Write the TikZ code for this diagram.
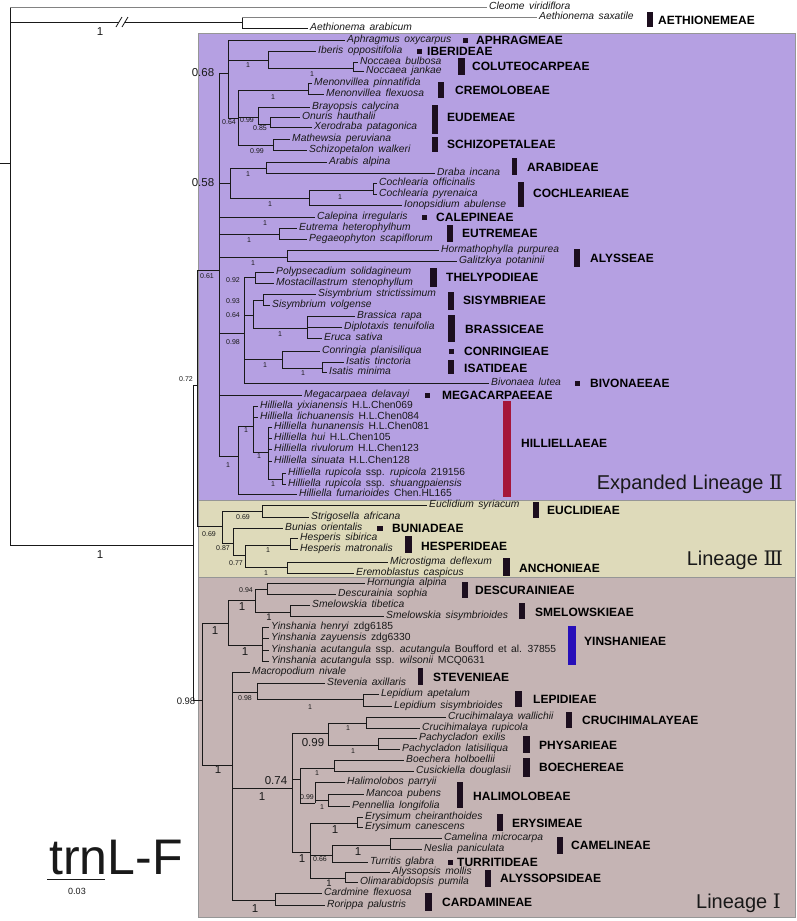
\documentclass[tikz,border=0pt]{standalone}
\usepackage{fontspec}
\setmainfont{Liberation Sans}
\newfontfamily\romfont{DejaVu Serif}
\definecolor{purp}{RGB}{181,160,226}
\definecolor{beig}{RGB}{222,218,186}
\definecolor{brwn}{RGB}{197,180,180}
\definecolor{bord}{RGB}{150,150,150}
\definecolor{ink}{RGB}{25,25,25}
\definecolor{barc}{RGB}{28,14,30}
\definecolor{hilc}{RGB}{165,22,58}
\definecolor{yinc}{RGB}{38,14,185}
\definecolor{grayline}{RGB}{130,130,130}
\newcommand\widesp{\spaceskip=4.5pt plus 1pt minus 1pt\relax}
\begin{document}
\begin{tikzpicture}[x=1pt,y=-1pt,
  branch/.style={draw=ink,line width=0.8pt},
  greybranch/.style={draw=grayline,line width=0.8pt},
  spn/.style={anchor=west,inner xsep=2pt,inner ysep=0pt,text height=7.4pt,text depth=2.1pt,text=ink,font=\fontsize{10.3}{10.3}\selectfont\itshape,execute at begin node=\widesp},
  tribe/.style={anchor=west,inner sep=0pt,text height=8.6pt,text depth=0pt,text=black,font=\fontsize{12}{12}\selectfont\bfseries},
  svs/.style={inner sep=0pt,text=ink,font=\fontsize{7}{7}\selectfont},
  svm/.style={inner sep=0pt,text=ink,font=\fontsize{9.5}{9.5}\selectfont},
  svl/.style={inner sep=0pt,text=ink,font=\fontsize{11.5}{11.5}\selectfont},
  region/.style={draw=bord,line width=0.7pt},
  lineage/.style={anchor=east,inner sep=0pt,text=ink,font=\fontsize{20}{20}\selectfont}
]
\useasboundingbox (0,0) rectangle (796,921);
% ---------- regions
\filldraw[region,fill=purp] (198,33) rectangle (795,500);
\filldraw[region,fill=beig] (198,500) rectangle (795,577);
\filldraw[region,fill=brwn] (198,577) rectangle (795,917);
\node[lineage] (linII) at (783,484) {Expanded Lineage {\romfont Ⅱ}};
\node[lineage] (linIII) at (783,560) {Lineage {\romfont Ⅲ}};
\node[lineage] (linI) at (781,903) {Lineage {\romfont Ⅰ}};

% ---------- internal nodes
\coordinate (r0) at (0,163);
\coordinate (r) at (10,163);
\coordinate (aeth) at (242,22);
\coordinate (brkA) at (119,22);
\coordinate (brkB) at (125,22);
\coordinate (core) at (193,545);
\coordinate (n072) at (197,385);
\coordinate (L1) at (202,700);
\coordinate (L2) at (219,270);
\coordinate (L3) at (222,526);
\coordinate (n068) at (228,73);
\coordinate (ibno) at (268,60);
\coordinate (noc) at (353,68);
\coordinate (n064) at (238,118);
\coordinate (menon) at (308,90);
\coordinate (eudem) at (258,117);
\coordinate (onxe) at (270,124);
\coordinate (schiz) at (273,145);
\coordinate (n058) at (230,183);
\coordinate (ardr) at (266,168);
\coordinate (coch) at (309,198);
\coordinate (cosp) at (373,190);
\coordinate (eutrn) at (279,234);
\coordinate (alysn) at (287,257);
\coordinate (n098) at (244,333);
\coordinate (thel) at (255,277);
\coordinate (n093) at (253,315);
\coordinate (sisn) at (263,300);
\coordinate (brasn) at (307,328);
\coordinate (conis) at (282,359);
\coordinate (isatn) at (322,368);
\coordinate (h0) at (238,456);
\coordinate (h1) at (253,426);
\coordinate (h2) at (268,452);
\coordinate (h3) at (282,479);
\coordinate (eucn) at (262,511);
\coordinate (n087) at (233,543);
\coordinate (n077) at (245,555);
\coordinate (hesp) at (290,545);
\coordinate (anch) at (287,567);
\coordinate (dsy) at (228,623);
\coordinate (dn) at (255,600);
\coordinate (descn) at (267,589);
\coordinate (smel) at (290,612);
\coordinate (yin) at (262,645);
\coordinate (rn) at (232,765);
\coordinate (stevn) at (257,692);
\coordinate (lepn) at (363,699);
\coordinate (bn) at (292,788);
\coordinate (n099) at (328,733);
\coordinate (cruc) at (366,723);
\coordinate (phys) at (378,745);
\coordinate (n074) at (300,779);
\coordinate (boen) at (334,768);
\coordinate (haln) at (315,803);
\coordinate (mp) at (328,800);
\coordinate (e1) at (310,852);
\coordinate (erys) at (357,823);
\coordinate (n066) at (332,855);
\coordinate (cane) at (390,845);
\coordinate (alyn) at (345,878);
\coordinate (cardn) at (275,900);

% ---------- leaves
\node[spn] (cleome) at (487,7) {Cleome viridiflora};
\node[spn] (saxat) at (537,17) {Aethionema saxatile};
\node[spn] (arabi) at (308,28) {Aethionema arabicum};
\node[spn] (aphr) at (345,40) {Aphragmus oxycarpus};
\node[spn] (iber) at (316,51) {Iberis oppositifolia};
\node[spn] (nocb) at (358,62) {Noccaea bulbosa};
\node[spn] (nocj) at (364,71) {Noccaea jankae};
\node[spn] (menp) at (312,83) {Menonvillea pinnatifida};
\node[spn] (menf) at (324,94) {Menonvillea flexuosa};
\node[spn] (bray) at (310,107) {Brayopsis calycina};
\node[spn] (onur) at (300,117) {Onuris hauthalii};
\node[spn] (xero) at (312,127) {Xerodraba patagonica};
\node[spn] (math) at (290,139) {Mathewsia peruviana};
\node[spn] (schi) at (307,150) {Schizopetalon walkeri};
\node[spn] (arab) at (327,162) {Arabis alpina};
\node[spn] (drab) at (435,173) {Draba incana};
\node[spn] (coco) at (377,183) {Cochlearia officinalis};
\node[spn] (copy) at (377,194) {Cochlearia pyrenaica};
\node[spn] (iono) at (402,205) {Ionopsidium abulense};
\node[spn] (cale) at (315,217) {Calepina irregularis};
\node[spn] (eutr) at (297,228) {Eutrema heterophylhum};
\node[spn] (pega) at (307,239) {Pegaeophyton scapiflorum};
\node[spn] (horm) at (439,250) {Hormathophylla purpurea};
\node[spn] (gali) at (457,261) {Galitzkya potaninii};
\node[spn] (poly) at (274,272) {Polypsecadium solidagineum};
\node[spn] (most) at (274,283) {Mostacillastrum stenophyllum};
\node[spn] (siss) at (316,294) {Sisymbrium strictissimum};
\node[spn] (sisv) at (270,305) {Sisymbrium volgense};
\node[spn] (bras) at (355,316) {Brassica rapa};
\node[spn] (dipl) at (342,327) {Diplotaxis tenuifolia};
\node[spn] (eruc) at (322,338) {Eruca sativa};
\node[spn] (conr) at (320,351) {Conringia planisiliqua};
\node[spn] (isat) at (344,362) {Isatis tinctoria};
\node[spn] (ismi) at (327,372) {Isatis minima};
\node[spn] (bivo) at (489,383) {Bivonaea lutea};
\node[spn] (mega) at (302,395) {Megacarpaea delavayi};
\node[spn] (hyix) at (258,406) {Hilliella yixianensis \textup{H.L.Chen069}};
\node[spn] (hlic) at (258,417) {Hilliella lichuanensis \textup{H.L.Chen084}};
\node[spn] (hhun) at (272,427) {Hilliella hunanensis \textup{H.L.Chen081}};
\node[spn] (hhui) at (272,438) {Hilliella hui \textup{H.L.Chen105}};
\node[spn] (hriv) at (272,449) {Hilliella rivulorum \textup{H.L.Chen123}};
\node[spn] (hsin) at (272,461) {Hilliella sinuata \textup{H.L.Chen128}};
\node[spn] (hrur) at (286,473) {Hilliella rupicola \textup{ssp.} rupicola \textup{219156}};
\node[spn] (hrus) at (286,484) {Hilliella rupicola \textup{ssp.} shuangpaiensis};
\node[spn] (hfum) at (297,494) {Hilliella fumarioides \textup{Chen.HL165}};
\node[spn] (eucl) at (427,505) {Euclidium syriacum};
\node[spn] (stri) at (309,517) {Strigosella africana};
\node[spn] (buni) at (283,528) {Bunias orientalis};
\node[spn] (hesi) at (298,538) {Hesperis sibirica};
\node[spn] (hema) at (298,549) {Hesperis matronalis};
\node[spn] (micr) at (388,562) {Microstigma deflexum};
\node[spn] (erem) at (354,573) {Eremoblastus caspicus};
\node[spn] (horn) at (365,583) {Hornungia alpina};
\node[spn] (desc) at (336,594) {Descurainia sophia};
\node[spn] (smti) at (310,605) {Smelowskia tibetica};
\node[spn] (smsi) at (384,616) {Smelowskia sisymbrioides};
\node[spn] (yhen) at (269,627) {Yinshania henryi \textup{zdg6185}};
\node[spn] (yzay) at (269,638) {Yinshania zayuensis \textup{zdg6330}};
\node[spn] (yaca) at (269,650) {Yinshania acutangula \textup{ssp.} acutangula \textup{Boufford et al. 37855}};
\node[spn] (ywil) at (269,661) {Yinshania acutangula \textup{ssp.} wilsonii \textup{MCQ0631}};
\node[spn] (macr) at (250,672) {Macropodium nivale};
\node[spn] (stev) at (325,683) {Stevenia axillaris};
\node[spn] (lepa) at (379,694) {Lepidium apetalum};
\node[spn] (leps) at (392,706) {Lepidium sisymbrioides};
\node[spn] (cwal) at (446,717) {Crucihimalaya wallichii};
\node[spn] (crup) at (420,728) {Crucihimalaya rupicola};
\node[spn] (pexi) at (417,738) {Pachycladon exilis};
\node[spn] (plat) at (400,749) {Pachycladon latisiliqua};
\node[spn] (boec) at (404,760) {Boechera holboellii};
\node[spn] (cusi) at (414,771) {Cusickiella douglasii};
\node[spn] (hali) at (345,782) {Halimolobos parryii};
\node[spn] (manc) at (364,794) {Mancoa pubens};
\node[spn] (penn) at (350,806) {Pennellia longifolia};
\node[spn] (erch) at (363,817) {Erysimum cheiranthoides};
\node[spn] (erca) at (363,827) {Erysimum canescens};
\node[spn] (came) at (442,838) {Camelina microcarpa};
\node[spn] (nesl) at (422,849) {Neslia paniculata};
\node[spn] (turr) at (368,862) {Turritis glabra};
\node[spn] (alys) at (390,872) {Alyssopsis mollis};
\node[spn] (olim) at (358,882) {Olimarabidopsis pumila};
\node[spn] (card) at (322,893) {Cardmine flexuosa};
\node[spn] (rori) at (325,905) {Rorippa palustris};

% ---------- branches
\draw[branch] (r0) -- (r);
\draw[branch] (r) -- (r |- cleome);
\draw[greybranch] (r |- cleome) -- (cleome);
\draw[branch] (r) |- (brkA);
\draw[branch] (brkB) -- (aeth);
\draw[branch] (aeth) -- (aeth |- saxat);
\draw[greybranch] (aeth |- saxat) -- (saxat);
\foreach \p/\c in {r/core, aeth/arabi, core/n072, core/L1, n072/L2, n072/L3,
  L2/n068, L2/n058, L2/cale, L2/eutrn, L2/alysn, L2/n098, L2/mega, L2/h0,
  n068/aphr, n068/ibno, n068/n064, ibno/iber, ibno/noc, noc/nocb, noc/nocj,
  n064/menon, n064/eudem, n064/schiz, menon/menp, menon/menf, eudem/bray, eudem/onxe,
  onxe/onur, onxe/xero, schiz/math, schiz/schi,
  n058/ardr, n058/coch, ardr/arab, ardr/drab, coch/cosp, coch/iono, cosp/coco, cosp/copy,
  eutrn/eutr, eutrn/pega, alysn/horm, alysn/gali,
  n098/thel, n098/n093, n098/conis, n098/bivo, thel/poly, thel/most,
  n093/sisn, n093/brasn, sisn/siss, sisn/sisv, brasn/bras, brasn/dipl, brasn/eruc,
  conis/conr, conis/isatn, isatn/isat, isatn/ismi,
  h0/h1, h0/hfum, h1/hyix, h1/hlic, h1/h2, h2/hhun, h2/hhui, h2/hriv, h2/hsin, h2/h3,
  h3/hrur, h3/hrus,
  L3/eucn, L3/n087, eucn/eucl, eucn/stri, n087/buni, n087/n077, n077/hesp, n077/anch,
  hesp/hesi, hesp/hema, anch/micr, anch/erem,
  L1/dsy, L1/rn, dsy/dn, dsy/yin, dn/descn, dn/smel, descn/horn, descn/desc,
  smel/smti, smel/smsi, yin/yhen, yin/yzay, yin/yaca, yin/ywil,
  rn/macr, rn/stevn, rn/bn, rn/cardn, stevn/stev, stevn/lepn, lepn/lepa, lepn/leps,
  bn/n099, bn/n074, bn/e1, n099/cruc, n099/phys, cruc/cwal, cruc/crup, phys/pexi, phys/plat,
  n074/boen, n074/haln, boen/boec, boen/cusi, haln/hali, haln/mp, mp/manc, mp/penn,
  e1/erys, e1/n066, e1/alyn, erys/erch, erys/erca, n066/cane, n066/turr,
  cane/came, cane/nesl, alyn/alys, alyn/olim, cardn/card, cardn/rori}
  {\draw[branch] (\p) |- (\c);}
% break marks
\coordinate (sl1a) at (116,27); \coordinate (sl1b) at (122,17);
\coordinate (sl2a) at (122,27); \coordinate (sl2b) at (128,17);
\draw[branch] (sl1a) -- (sl1b);
\draw[branch] (sl2a) -- (sl2b);

% ---------- support values
\node[svl] (s01) at (100,32) {1};
\node[svl] (s02) at (100,555) {1};
\node[svs] (s03) at (186,379) {0.72};
\node[svm] (s04) at (186,701) {0.98};
\node[svl] (s05) at (203,73) {0.68};
\node[svl] (s06) at (203,183) {0.58};
\node[svs] (s07) at (207,276) {0.61};
\node[svs] (s08) at (248,65) {1};
\node[svs] (s09) at (312,74) {1};
\node[svs] (s10) at (273,97) {1};
\node[svs] (s11) at (229,122) {0.64};
\node[svs] (s12) at (247,120) {0.99};
\node[svs] (s13) at (260,128) {0.85};
\node[svs] (s14) at (257,151) {0.99};
\node[svs] (s15) at (248,174) {1};
\node[svs] (s16) at (270,204) {1};
\node[svs] (s17) at (340,197) {1};
\node[svs] (s18) at (265,223) {1};
\node[svs] (s19) at (249,240) {1};
\node[svs] (s20) at (253,263) {1};
\node[svs] (s21) at (233,280) {0.92};
\node[svs] (s22) at (233,301) {0.93};
\node[svs] (s23) at (233,315) {0.64};
\node[svs] (s24) at (233,342) {0.98};
\node[svs] (s25) at (280,334) {1};
\node[svs] (s26) at (265,365) {1};
\node[svs] (s27) at (303,373) {1};
\node[svs] (s28) at (246,430) {1};
\node[svs] (s29) at (259,456) {1};
\node[svs] (s30) at (228,465) {1};
\node[svs] (s31) at (273,484) {1};
\node[svs] (s32) at (243,517) {0.69};
\node[svs] (s33) at (209,534) {0.69};
\node[svs] (s34) at (223,548) {0.87};
\node[svs] (s35) at (236,563) {0.77};
\node[svs] (s36) at (268,550) {1};
\node[svs] (s37) at (266,573) {1};
\node[svs] (s38) at (246,590) {0.94};
\node[svl] (s39) at (242,607) {1};
\node[svm] (s40) at (269,617) {1};
\node[svl] (s41) at (215,631) {1};
\node[svl] (s42) at (245,652) {1};
\node[svs] (s43) at (245,698) {0.98};
\node[svs] (s44) at (310,707) {1};
\node[svl] (s45) at (313,743) {0.99};
\node[svs] (s46) at (348,728) {1};
\node[svs] (s47) at (353,751) {1};
\node[svl] (s48) at (218,770) {1};
\node[svl] (s49) at (276,781) {0.74};
\node[svs] (s50) at (317,773) {1};
\node[svl] (s51) at (262,797) {1};
\node[svs] (s52) at (307,797) {0.99};
\node[svs] (s53) at (322,807) {1};
\node[svl] (s54) at (335,830) {1};
\node[svl] (s55) at (302,859) {1};
\node[svs] (s56) at (320,859) {0.66};
\node[svl] (s57) at (358,852) {1};
\node[svm] (s58) at (329,883) {1};
\node[svl] (s59) at (255,909) {1};

% ---------- tribe bars and labels
\fill[barc] (647,12) rectangle (653,27);   \node[tribe] (tAet) at (658,20) {AETHIONEMEAE};
\fill[barc] (463,37.5) rectangle (468,42.5); \node[tribe] (tAph) at (476,40) {APHRAGMEAE};
\fill[barc] (417,48.5) rectangle (422,53.5); \node[tribe] (tIbe) at (427,51) {IBERIDEAE};
\fill[barc] (458,58) rectangle (465,75);   \node[tribe] (tCol) at (472,66) {COLUTEOCARPEAE};
\fill[barc] (438,82) rectangle (444,98);   \node[tribe] (tCre) at (455,90) {CREMOLOBEAE};
\fill[barc] (432,105) rectangle (438,134); \node[tribe] (tEud) at (447,117) {EUDEMEAE};
\fill[barc] (432,137) rectangle (438,152); \node[tribe] (tSch) at (447,144) {SCHIZOPETALEAE};
\fill[barc] (512,158) rectangle (517,175); \node[tribe] (tAra) at (527,167) {ARABIDEAE};
\fill[barc] (518,182) rectangle (524,207); \node[tribe] (tCoc) at (533,193) {COCHLEARIEAE};
\fill[barc] (422,214.5) rectangle (427,219.5); \node[tribe] (tCal) at (436,217) {CALEPINEAE};
\fill[barc] (447,225) rectangle (453,242); \node[tribe] (tEut) at (462,233) {EUTREMEAE};
\fill[barc] (574,249) rectangle (580,267); \node[tribe] (tAly) at (590,258) {ALYSSEAE};
\fill[barc] (430,268) rectangle (437,287); \node[tribe] (tThe) at (446,277) {THELYPODIEAE};
\fill[barc] (448,292) rectangle (454,310); \node[tribe] (tSis) at (463,300) {SISYMBRIEAE};
\fill[barc] (448,315) rectangle (455,342); \node[tribe] (tBra) at (465,329) {BRASSICEAE};
\fill[barc] (449,348.5) rectangle (454,353.5); \node[tribe] (tCon) at (464,351) {CONRINGIEAE};
\fill[barc] (448,360) rectangle (454,374); \node[tribe] (tIsa) at (464,368) {ISATIDEAE};
\fill[barc] (575,380.5) rectangle (580,385.5); \node[tribe] (tBiv) at (590,383) {BIVONAEEAE};
\fill[barc] (425,392.5) rectangle (430,397.5); \node[tribe] (tMeg) at (442,395) {MEGACARPAEEAE};
\fill[hilc] (503,401) rectangle (511,497); \node[tribe] (tHil) at (521,443) {HILLIELLAEAE};
\fill[barc] (533,502) rectangle (539,518); \node[tribe] (tEuc) at (547,510) {EUCLIDIEAE};
\fill[barc] (377,525.5) rectangle (383,530.5); \node[tribe] (tBun) at (392,528) {BUNIADEAE};
\fill[barc] (405,536) rectangle (412,553); \node[tribe] (tHes) at (421,546) {HESPERIDEAE};
\fill[barc] (503,558) rectangle (510,576); \node[tribe] (tAnc) at (519,568) {ANCHONIEAE};
\fill[barc] (462,582) rectangle (468,598); \node[tribe] (tDes) at (475,590) {DESCURAINIEAE};
\fill[barc] (519,603) rectangle (525,619); \node[tribe] (tSme) at (535,612) {SMELOWSKIEAE};
\fill[yinc] (568,626) rectangle (576,665); \node[tribe] (tYin) at (584,641) {YINSHANIEAE};
\fill[barc] (418,668) rectangle (423,685); \node[tribe] (tSte) at (433,677) {STEVENIEAE};
\fill[barc] (515,691) rectangle (522,707); \node[tribe] (tLep) at (533,699) {LEPIDIEAE};
\fill[barc] (566,712) rectangle (572,728); \node[tribe] (tCru) at (582,720) {CRUCIHIMALAYEAE};
\fill[barc] (523,736) rectangle (530,753); \node[tribe] (tPhy) at (539,745) {PHYSARIEAE};
\fill[barc] (523,758) rectangle (530,777); \node[tribe] (tBoe) at (539,767) {BOECHEREAE};
\fill[barc] (457,782) rectangle (463,808); \node[tribe] (tHal) at (473,796) {HALIMOLOBEAE};
\fill[barc] (497,814) rectangle (503,831); \node[tribe] (tEry) at (512,823) {ERYSIMEAE};
\fill[barc] (557,837) rectangle (563,854); \node[tribe] (tCam) at (571,845) {CAMELINEAE};
\fill[barc] (448,859.5) rectangle (453,864.5); \node[tribe] (tTur) at (457,862) {TURRITIDEAE};
\fill[barc] (485,870) rectangle (491,887); \node[tribe] (tAls) at (500,878) {ALYSSOPSIDEAE};
\fill[barc] (425,893) rectangle (432,911); \node[tribe] (tCar) at (442,902) {CARDAMINEAE};

% ---------- scale
\node[inner sep=0pt,font=\fontsize{50}{50}\selectfont,text=ink] (trnlf) at (116,857) {trnL-F};
\coordinate (scA) at (47,879);
\coordinate (scB) at (105,879);
\draw[branch] (scA) -- (scB);
\node[inner sep=0pt,font=\fontsize{9}{9}\selectfont,text=ink] (scl) at (77,891) {0.03};
\end{tikzpicture}
\end{document}
